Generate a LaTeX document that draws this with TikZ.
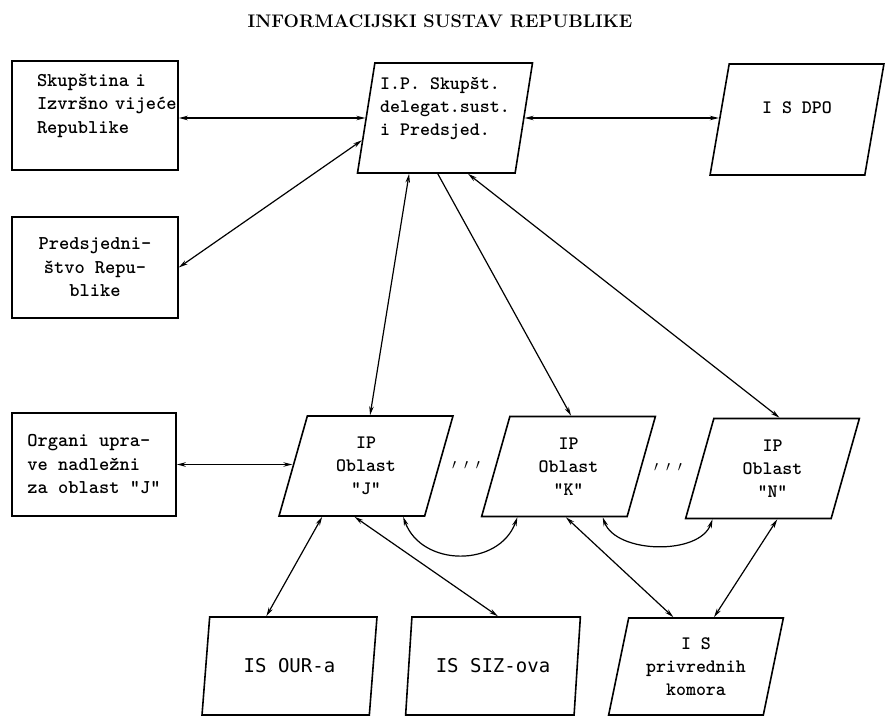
\documentclass[tikz,border=0pt]{standalone}
\usepackage{fontspec}
\newfontfamily\gothic{DejaVu Sans Mono}
\usetikzlibrary{arrows.meta,calc,positioning,shapes.geometric}
\tikzset{%
	box/.style      = {draw, rectangle, line width=1.6pt, minimum width=166pt, minimum height=105pt, font=\ttfamily\bfseries\fontsize{19.5}{23.5}\selectfont},
	para/.style     = {draw, trapezium, trapezium left angle=76, trapezium right angle=104, trapezium stretches=true, minimum width=175pt, minimum height=100pt, inner sep=2pt, line width=1.6pt, align=center, font=\ttfamily\bfseries\fontsize{19}{23}\selectfont},
	gothictext/.style = {font=\gothic\fontsize{19}{23}\selectfont},
	dots/.style     = {font=\bfseries\fontsize{15}{16}\selectfont},
	title/.style    = {font=\bfseries\fontsize{18.2}{22}\selectfont},
	link/.style     = {line width=1.2pt, {Stealth[length=9pt,width=4.5pt]}-{Stealth[length=9pt,width=4.5pt]}},
	linkto/.style   = {line width=1.2pt, -{Stealth[length=9pt,width=4.5pt]}},
}

\begin{document}
\begin{tikzpicture}[x=1pt,y=1pt]
	\useasboundingbox (0,0) rectangle (887,-717);
	\node[title] (naslov) at (440,-21) {INFORMACIJSKI SUSTAV REPUBLIKE};
	
	% lijevi stupac
	\node[box,align=left,inner xsep=25pt,text width=116pt,minimum height=109pt] (skup) at (95,-115.5) {\mbox{Skupština i}\\\mbox{Izvršno vijeće}\\Republike\\\mbox{}};
	\node[box,align=center,minimum height=101pt] (pred) at (95,-267.5) {Predsjedni-\\štvo Repu-\\blike};
	\node[box,align=left,minimum width=164pt,minimum height=103pt] (organi) at (94,-464.5) {Organi upra-\\ve nadležni\\za oblast "J"};
	
	% gornji red
	\node[para,align=left,minimum height=110pt,trapezium left angle=79,trapezium right angle=101] (ipc) at (445,-118) {I.P. Skupšt.\\delegat.sust.\\i Predsjed.\\\mbox{}};
	\node[para,minimum height=111pt,trapezium left angle=75,trapezium right angle=105] (dpo) at (797,-119.5) {I S DPO\\\mbox{}};
	
	% srednji red
	\node[para] (ipJ) at (366,-466) {IP\\Oblast\\"J"};
	\node[para] (ipK) at (568.5,-466.5) {IP\\Oblast\\"K"};
	\node[para] (ipN) at (772.5,-468.5) {IP\\Oblast\\"N"};
	\node[dots] (dots1) at (466,-465) {$\prime\;\;\prime\;\;\prime$};
	\node[dots] (dots2) at (668,-467) {$\prime\;\;\prime\;\;\prime$};
	
	% donji red
	\node[para,gothictext,minimum height=98pt] (our) at (289.5,-666) {IS OUR-a};
	\node[para,gothictext,minimum height=98pt] (siz) at (493,-666) {IS SIZ-ova};
	\node[para,minimum height=97pt] (komora) at (696,-666.5) {I S\\privrednih\\komora};
	
	\draw[link] (skup.east |- ipc.west) -- (ipc.west);
	\draw[link] (ipc.east) -- (ipc.east -| dpo.west);
	\draw[link] (pred.east) -- ($(ipc.top left corner)!0.7!(ipc.bottom left corner)$);
	\draw[link] (organi.east) -- (organi.east -| ipJ.west);
	\draw[link] ($(ipc.bottom left corner)!0.33!(ipc.bottom right corner)$) -- ($(ipJ.top left corner)!0.43!(ipJ.top right corner)$);
	\draw[linkto] ($(ipc.bottom left corner)!0.51!(ipc.bottom right corner)$) -- ($(ipK.top left corner)!0.42!(ipK.top right corner)$);
	\draw[link] ($(ipc.bottom left corner)!0.70!(ipc.bottom right corner)$) -- ($(ipN.top left corner)!0.45!(ipN.top right corner)$);
	\draw[link] ($(ipJ.bottom left corner)!0.30!(ipJ.bottom right corner)$) -- ($(our.top left corner)!0.34!(our.top right corner)$);
	\draw[link] ($(ipJ.bottom left corner)!0.52!(ipJ.bottom right corner)$) -- ($(siz.top left corner)!0.51!(siz.top right corner)$);
	\draw[link] ($(ipJ.bottom left corner)!0.85!(ipJ.bottom right corner)$) to[out=-70,in=-110,looseness=1.2] ($(ipK.bottom left corner)!0.25!(ipK.bottom right corner)$);
	\draw[link] ($(ipK.bottom left corner)!0.58!(ipK.bottom right corner)$) -- ($(komora.top left corner)!0.29!(komora.top right corner)$);
	\draw[link] ($(ipK.bottom left corner)!0.83!(ipK.bottom right corner)$) to[out=-70,in=-110,looseness=0.9] ($(ipN.bottom left corner)!0.19!(ipN.bottom right corner)$);
	\draw[link] ($(ipN.bottom left corner)!0.63!(ipN.bottom right corner)$) -- ($(komora.top left corner)!0.55!(komora.top right corner)$);
\end{tikzpicture}
\end{document}
